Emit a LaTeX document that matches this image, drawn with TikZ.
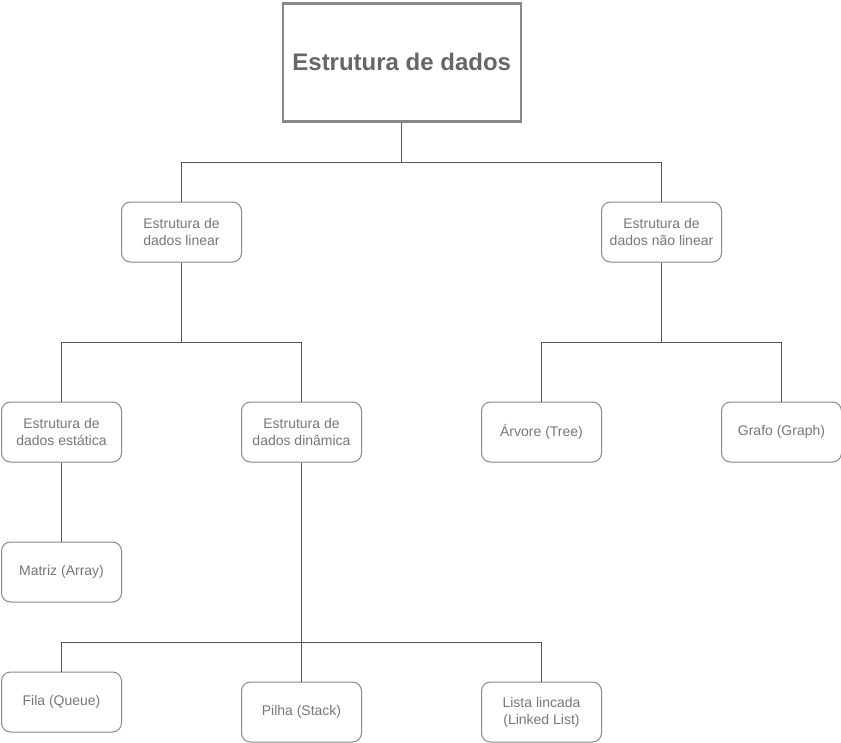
\documentclass[tikz,border=0pt]{standalone}
\usepackage{fontspec}
\setmainfont{Liberation Sans}
\definecolor{txt}{HTML}{666666}
\definecolor{ntxt}{HTML}{777777}
\definecolor{bord}{HTML}{888888}
\definecolor{edge}{HTML}{555555}
\begin{document}
\begin{tikzpicture}[x=1pt,y=-1pt,
  box/.style={draw=bord,line width=1pt,rounded corners=9pt,minimum width=120pt,minimum height=60pt,inner sep=0pt,align=center,text=ntxt,font=\fontsize{14}{17}\selectfont,anchor=north west,fill=white},
  rootbox/.style={draw=bord,line width=2.5pt,minimum width=238pt,minimum height=118pt,inner sep=0pt,align=center,text=txt,font=\fontsize{24}{28}\selectfont\bfseries,anchor=north west,fill=white},
  conn/.style={draw=edge,line width=0.9pt}]
\useasboundingbox (0,0) rectangle (841,742);
\fill[white] (0,0) rectangle (841,742);
\node[rootbox] (root) at (281.5,2) {Estrutura de dados};
\node[box] (lin) at (121,201.5) {Estrutura de\\dados linear};
\node[box] (nlin) at (601,201.5) {Estrutura de\\dados não linear};
\node[box] (est) at (1,401.5) {Estrutura de\\dados estática};
\node[box] (din) at (241,401.5) {Estrutura de\\dados dinâmica};
\node[box] (arv) at (481,401.5) {Árvore (Tree)};
\node[box] (gra) at (721,401.5) {Grafo (Graph)};
\node[box] (mat) at (1,541.5) {Matriz (Array)};
\node[box] (fila) at (1,671.5) {Fila (Queue)};
\node[box] (pil) at (241,681.5) {Pilha (Stack)};
\node[box] (lis) at (481,681.5) {Lista lincada\\(Linked List)};
\path (root.south) ++(0,39.5) coordinate (j0);
\path (lin.south) ++(0,80) coordinate (j1);
\path (nlin.south) ++(0,80) coordinate (j2);
\path (din.south) ++(0,180) coordinate (j3);
\draw[conn] (root.south) -- (j0);
\draw[conn] (j0) -| (lin.north);
\draw[conn] (j0) -| (nlin.north);
\draw[conn] (lin.south) -- (j1);
\draw[conn] (j1) -| (est.north);
\draw[conn] (j1) -| (din.north);
\draw[conn] (nlin.south) -- (j2);
\draw[conn] (j2) -| (arv.north);
\draw[conn] (j2) -| (gra.north);
\draw[conn] (est.south) -- (mat.north);
\draw[conn] (din.south) -- (j3);
\draw[conn] (j3) -| (fila.north);
\draw[conn] (j3) -- (pil.north);
\draw[conn] (j3) -| (lis.north);
\end{tikzpicture}
\end{document}
